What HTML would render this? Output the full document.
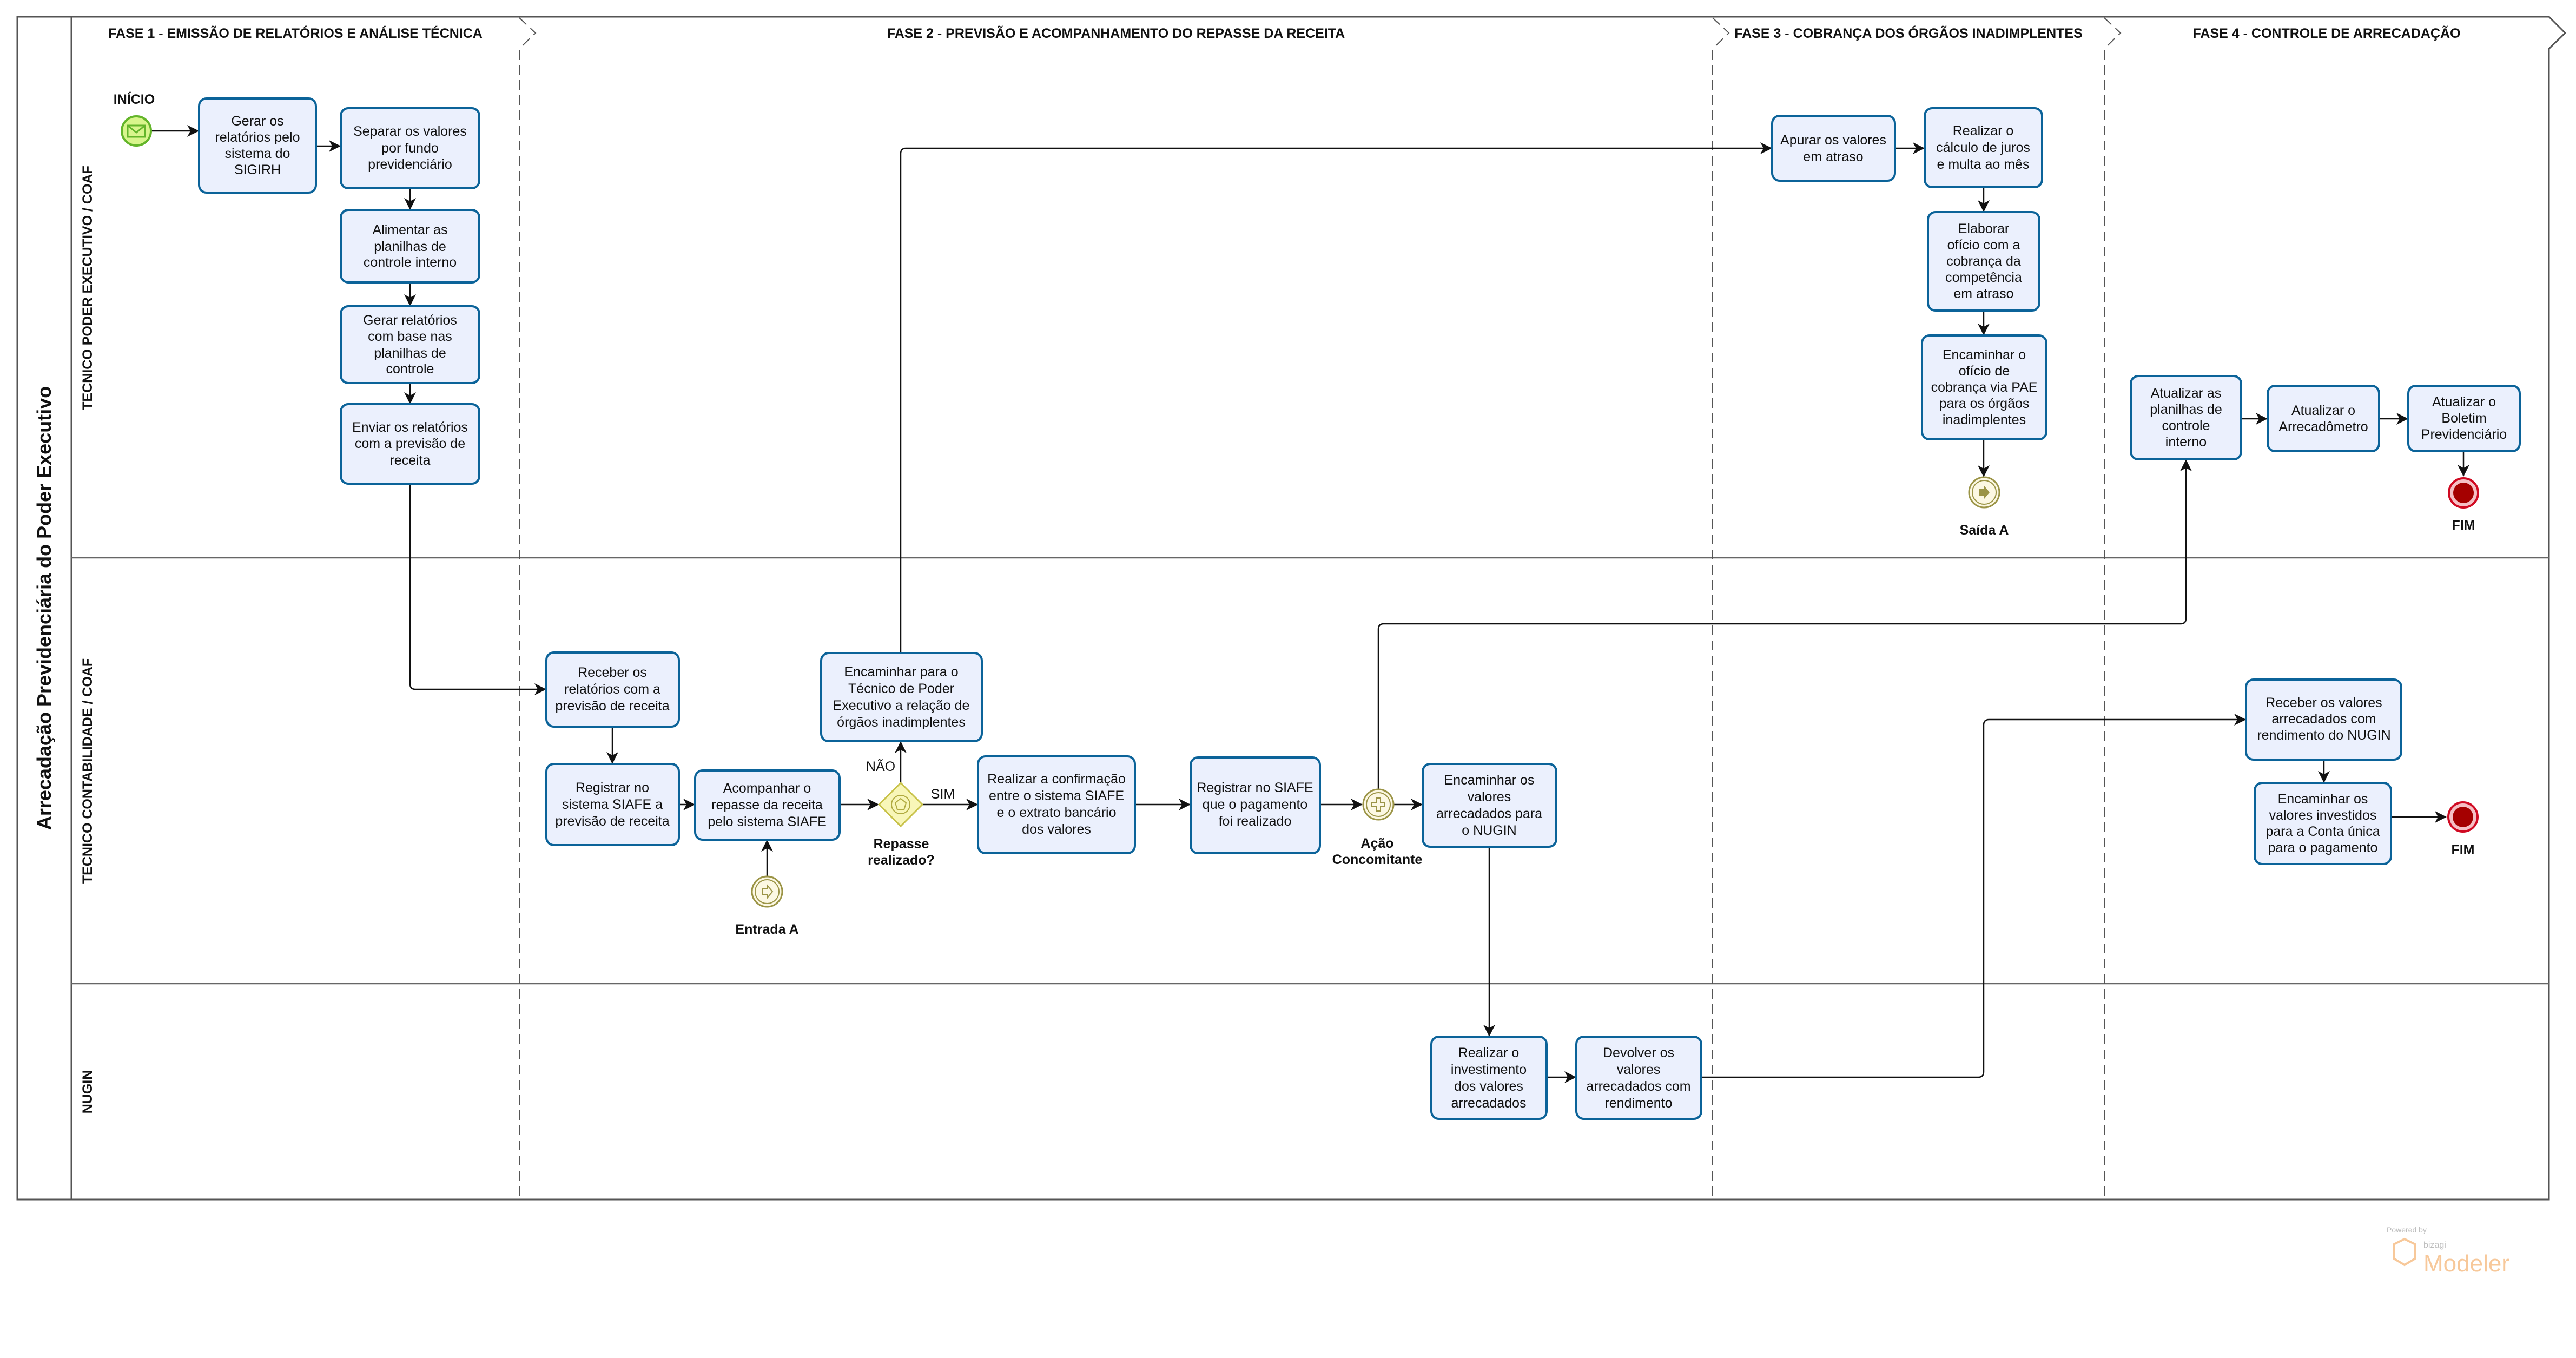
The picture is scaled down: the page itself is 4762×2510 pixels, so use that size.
<!DOCTYPE html>
<html><head><meta charset="utf-8"><style>
html,body{margin:0;padding:0;background:#fff;}
svg{display:block;}
.t{font-family:"Liberation Sans",sans-serif;font-size:25px;fill:#111;text-anchor:middle;}
.b{font-family:"Liberation Sans",sans-serif;font-weight:bold;fill:#111;text-anchor:middle;}
.task{fill:#ebf0fd;stroke:#0b6399;stroke-width:4;}
.c{fill:none;stroke:#111;stroke-width:2.5;}
.d{stroke:#555;stroke-width:2;stroke-dasharray:18 10;fill:none;}
</style></head><body>
<svg width="4762" height="2510" viewBox="0 0 4762 2510" xmlns="http://www.w3.org/2000/svg">
<defs>
<marker id="A" markerWidth="22" markerHeight="22" refX="20" refY="11" orient="auto" markerUnits="userSpaceOnUse"><path d="M0,0 L22,11 L0,22 L6,11 z" fill="#111"/></marker></defs>
<rect width="4762" height="2510" fill="#fff"/>
<!-- pool -->
<path d="M32,31 H4712 L4742,61 L4712,90 V2217 H32 Z" fill="none" stroke="#555" stroke-width="3"/>
<line x1="132" y1="31" x2="132" y2="2217" stroke="#555" stroke-width="3"/>
<line x1="132" y1="1031" x2="4712" y2="1031" stroke="#666" stroke-width="2.5"/>
<line x1="132" y1="1818" x2="4712" y2="1818" stroke="#666" stroke-width="2.5"/>
<!-- phases -->
<path class="d" d="M960,33 L990,61 L962,88 M960,92 V2217"/>
<path class="d" d="M3166,33 L3196,61 L3168,88 M3166,92 V2217"/>
<path class="d" d="M3890,33 L3920,61 L3892,88 M3890,92 V2217"/>
<text class="b" x="546" y="70" font-size="25">FASE 1 - EMISSÃO DE RELATÓRIOS E ANÁLISE TÉCNICA</text>
<text class="b" x="2063" y="70" font-size="25">FASE 2 - PREVISÃO E ACOMPANHAMENTO DO REPASSE DA RECEITA</text>
<text class="b" x="3528" y="70" font-size="25">FASE 3 - COBRANÇA DOS ÓRGÃOS INADIMPLENTES</text>
<text class="b" x="4301" y="70" font-size="25">FASE 4 - CONTROLE DE ARRECADAÇÃO</text>
<text class="b" font-size="36" transform="translate(94,1124) rotate(-90)">Arrecadação Previdenciária do Poder Executivo</text>
<text class="b" font-size="25" transform="translate(170,532) rotate(-90)">TECNICO PODER EXECUTIVO / COAF</text>
<text class="b" font-size="25" transform="translate(170,1425) rotate(-90)">TECNICO CONTABILIDADE / COAF</text>
<text class="b" font-size="25" transform="translate(170,2018) rotate(-90)">NUGIN</text>

<!-- connectors -->
<g class="c">
<path d="M279,242 H366" marker-end="url(#A)"/>
<path d="M584,270 H628" marker-end="url(#A)"/>
<path d="M758,348 V386" marker-end="url(#A)"/>
<path d="M758,522 V564" marker-end="url(#A)"/>
<path d="M758,708 V745" marker-end="url(#A)"/>
<path d="M758,894 V1264 Q758,1274 768,1274 H1008" marker-end="url(#A)"/>
<path d="M1132,1343 V1410" marker-end="url(#A)"/>
<path d="M1255,1487 H1283" marker-end="url(#A)"/>
<path d="M1552,1487 H1623" marker-end="url(#A)"/>
<path d="M1705,1487 H1806" marker-end="url(#A)"/>
<path d="M1665,1447 V1372" marker-end="url(#A)"/>
<path d="M1665,1207 V284 Q1665,274 1675,274 H3274" marker-end="url(#A)"/>
<path d="M2098,1487 H2199" marker-end="url(#A)"/>
<path d="M2440,1487 H2517" marker-end="url(#A)"/>
<path d="M2577,1487 H2628" marker-end="url(#A)"/>
<path d="M2548,1458 V1163 Q2548,1153 2558,1153 H4031 Q4041,1153 4041,1143 V851" marker-end="url(#A)"/>
<path d="M1418,1620 V1554" marker-end="url(#A)"/>
<path d="M2753,1565 V1914" marker-end="url(#A)"/>
<path d="M2859,1991 H2912" marker-end="url(#A)"/>
<path d="M3145,1991 H3657 Q3667,1991 3667,1981 V1340 Q3667,1330 3677,1330 H4150" marker-end="url(#A)"/>
<path d="M3503,274 H3556" marker-end="url(#A)"/>
<path d="M3667,346 V390" marker-end="url(#A)"/>
<path d="M3667,574 V618" marker-end="url(#A)"/>
<path d="M3667,812 V880" marker-end="url(#A)"/>
<path d="M4143,774 H4190" marker-end="url(#A)"/>
<path d="M4398,774 H4450" marker-end="url(#A)"/>
<path d="M4554,834 V879" marker-end="url(#A)"/>
<path d="M4296,1404 V1445" marker-end="url(#A)"/>
<path d="M4420,1510 H4521" marker-end="url(#A)"/>
</g>

<!-- tasks -->
<g>
<rect class="task" x="368" y="182" width="216" height="174" rx="14"/>
<text class="t"><tspan x="476" y="232">Gerar os</tspan><tspan x="476" y="262">relatórios pelo</tspan><tspan x="476" y="292">sistema do</tspan><tspan x="476" y="322">SIGIRH</tspan></text>
<rect class="task" x="630" y="200" width="256" height="148" rx="14"/>
<text class="t"><tspan x="758" y="251">Separar os valores</tspan><tspan x="758" y="282">por fundo</tspan><tspan x="758" y="312">previdenciário</tspan></text>
<rect class="task" x="630" y="388" width="256" height="134" rx="14"/>
<text class="t"><tspan x="758" y="433">Alimentar as</tspan><tspan x="758" y="464">planilhas de</tspan><tspan x="758" y="493">controle interno</tspan></text>
<rect class="task" x="630" y="566" width="256" height="142" rx="14"/>
<text class="t"><tspan x="758" y="600">Gerar relatórios</tspan><tspan x="758" y="630">com base nas</tspan><tspan x="758" y="661">planilhas de</tspan><tspan x="758" y="690">controle</tspan></text>
<rect class="task" x="630" y="747" width="256" height="147" rx="14"/>
<text class="t"><tspan x="758" y="798">Enviar os relatórios</tspan><tspan x="758" y="828">com a previsão de</tspan><tspan x="758" y="859">receita</tspan></text>

<rect class="task" x="1010" y="1206" width="245" height="137" rx="14"/>
<text class="t"><tspan x="1132" y="1251">Receber os</tspan><tspan x="1132" y="1282">relatórios com a</tspan><tspan x="1132" y="1313">previsão de receita</tspan></text>
<rect class="task" x="1010" y="1412" width="245" height="150" rx="14"/>
<text class="t"><tspan x="1132" y="1464">Registrar no</tspan><tspan x="1132" y="1495">sistema SIAFE a</tspan><tspan x="1132" y="1526">previsão de receita</tspan></text>
<rect class="task" x="1285" y="1424" width="267" height="128" rx="14"/>
<text class="t"><tspan x="1418" y="1465">Acompanhar o</tspan><tspan x="1418" y="1496">repasse da receita</tspan><tspan x="1418" y="1527">pelo sistema SIAFE</tspan></text>
<rect class="task" x="1518" y="1207" width="297" height="163" rx="14"/>
<text class="t"><tspan x="1666" y="1250">Encaminhar para o</tspan><tspan x="1666" y="1281">Técnico de Poder</tspan><tspan x="1666" y="1312">Executivo a relação de</tspan><tspan x="1666" y="1343">órgãos inadimplentes</tspan></text>
<rect class="task" x="1808" y="1398" width="290" height="179" rx="14"/>
<text class="t"><tspan x="1953" y="1448">Realizar a confirmação</tspan><tspan x="1953" y="1479">entre o sistema SIAFE</tspan><tspan x="1953" y="1510">e o extrato bancário</tspan><tspan x="1953" y="1541">dos valores</tspan></text>
<rect class="task" x="2201" y="1400" width="239" height="177" rx="14"/>
<text class="t"><tspan x="2320" y="1464">Registrar no SIAFE</tspan><tspan x="2320" y="1495">que o pagamento</tspan><tspan x="2320" y="1526">foi realizado</tspan></text>
<rect class="task" x="2630" y="1412" width="247" height="153" rx="14"/>
<text class="t"><tspan x="2753" y="1450">Encaminhar os</tspan><tspan x="2753" y="1481">valores</tspan><tspan x="2753" y="1512">arrecadados para</tspan><tspan x="2753" y="1543">o NUGIN</tspan></text>
<rect class="task" x="2646" y="1916" width="213" height="152" rx="14"/>
<text class="t"><tspan x="2752" y="1954">Realizar o</tspan><tspan x="2752" y="1985">investimento</tspan><tspan x="2752" y="2016">dos valores</tspan><tspan x="2752" y="2047">arrecadados</tspan></text>
<rect class="task" x="2914" y="1916" width="231" height="152" rx="14"/>
<text class="t"><tspan x="3029" y="1954">Devolver os</tspan><tspan x="3029" y="1985">valores</tspan><tspan x="3029" y="2016">arrecadados com</tspan><tspan x="3029" y="2047">rendimento</tspan></text>

<rect class="task" x="3276" y="214" width="227" height="120" rx="14"/>
<text class="t"><tspan x="3389" y="267">Apurar os valores</tspan><tspan x="3389" y="298">em atraso</tspan></text>
<rect class="task" x="3558" y="200" width="217" height="146" rx="14"/>
<text class="t"><tspan x="3666" y="250">Realizar o</tspan><tspan x="3666" y="281">cálculo de juros</tspan><tspan x="3666" y="312">e multa ao mês</tspan></text>
<rect class="task" x="3564" y="392" width="206" height="182" rx="14"/>
<text class="t"><tspan x="3667" y="431">Elaborar</tspan><tspan x="3667" y="461">ofício com a</tspan><tspan x="3667" y="491">cobrança da</tspan><tspan x="3667" y="521">competência</tspan><tspan x="3667" y="551">em atraso</tspan></text>
<rect class="task" x="3553" y="620" width="230" height="192" rx="14"/>
<text class="t"><tspan x="3668" y="664">Encaminhar o</tspan><tspan x="3668" y="694">ofício de</tspan><tspan x="3668" y="724">cobrança via PAE</tspan><tspan x="3668" y="754">para os órgãos</tspan><tspan x="3668" y="784">inadimplentes</tspan></text>
<rect class="task" x="3939" y="695" width="204" height="154" rx="14"/>
<text class="t"><tspan x="4041" y="735">Atualizar as</tspan><tspan x="4041" y="765">planilhas de</tspan><tspan x="4041" y="795">controle</tspan><tspan x="4041" y="825">interno</tspan></text>
<rect class="task" x="4192" y="713" width="206" height="121" rx="14"/>
<text class="t"><tspan x="4295" y="767">Atualizar o</tspan><tspan x="4295" y="797">Arrecadômetro</tspan></text>
<rect class="task" x="4452" y="713" width="206" height="121" rx="14"/>
<text class="t"><tspan x="4555" y="751">Atualizar o</tspan><tspan x="4555" y="781">Boletim</tspan><tspan x="4555" y="811">Previdenciário</tspan></text>
<rect class="task" x="4152" y="1256" width="287" height="148" rx="14"/>
<text class="t"><tspan x="4296" y="1307">Receber os valores</tspan><tspan x="4296" y="1337">arrecadados com</tspan><tspan x="4296" y="1367">rendimento do NUGIN</tspan></text>
<rect class="task" x="4168" y="1447" width="252" height="150" rx="14"/>
<text class="t"><tspan x="4294" y="1485">Encaminhar os</tspan><tspan x="4294" y="1515">valores investidos</tspan><tspan x="4294" y="1545">para a Conta única</tspan><tspan x="4294" y="1575">para o pagamento</tspan></text>
</g>

<!-- events -->
<circle cx="252" cy="242" r="27" fill="#d8f58c" stroke="#63b52a" stroke-width="4"/>
<rect x="236" y="232" width="32" height="21" fill="none" stroke="#63b52a" stroke-width="3"/>
<path d="M236,232 L252,245 L268,232" fill="none" stroke="#63b52a" stroke-width="3"/>
<text class="b" x="248" y="192" font-size="25">INÍCIO</text>

<polygon points="1665,1447 1705,1487 1665,1527 1625,1487" fill="#f8f6b8" stroke="#c8c24a" stroke-width="3"/>
<circle cx="1665" cy="1487" r="17" fill="none" stroke="#b0aa40" stroke-width="2"/>
<polygon points="1665,1476 1675,1484 1671,1497 1659,1497 1655,1484" fill="none" stroke="#b0aa40" stroke-width="2"/>
<text class="t" x="1628" y="1425" font-size="28">NÃO</text>
<text class="t" x="1743" y="1476" font-size="28">SIM</text>
<text class="b" font-size="25"><tspan x="1666" y="1568">Repasse</tspan><tspan x="1666" y="1598">realizado?</tspan></text>

<circle cx="2548" cy="1487" r="28" fill="#fcf8e3" stroke="#9b9446" stroke-width="3"/>
<circle cx="2548" cy="1487" r="22" fill="none" stroke="#9b9446" stroke-width="2"/>
<path d="M2544,1475 h8 v8 h8 v8 h-8 v8 h-8 v-8 h-8 v-8 h8 z" fill="none" stroke="#9b9446" stroke-width="2"/>
<text class="b" font-size="25"><tspan x="2546" y="1567">Ação</tspan><tspan x="2546" y="1597">Concomitante</tspan></text>

<circle cx="1418" cy="1648" r="28" fill="#fcf8e3" stroke="#9b9446" stroke-width="3"/>
<circle cx="1418" cy="1648" r="22" fill="none" stroke="#9b9446" stroke-width="2"/>
<path d="M1409,1642 h9 v-6 l10,12 l-10,12 v-6 h-9 z" fill="none" stroke="#9b9446" stroke-width="2"/>
<text class="b" x="1418" y="1726" font-size="25">Entrada A</text>

<circle cx="3668" cy="910" r="28" fill="#fcf8e3" stroke="#9b9446" stroke-width="3"/>
<circle cx="3668" cy="910" r="22" fill="none" stroke="#9b9446" stroke-width="2"/>
<path d="M3659,904 h9 v-6 l10,12 l-10,12 v-6 h-9 z" fill="#9b9446"/>
<text class="b" x="3668" y="988" font-size="25">Saída A</text>

<circle cx="4554" cy="911" r="27" fill="#f5c0c5" stroke="#d00a22" stroke-width="4"/>
<circle cx="4554" cy="911" r="19" fill="#a50000"/>
<text class="b" x="4554" y="979" font-size="25">FIM</text>
<circle cx="4553" cy="1510" r="27" fill="#f5c0c5" stroke="#d00a22" stroke-width="4"/>
<circle cx="4553" cy="1510" r="19" fill="#a50000"/>
<text class="b" x="4553" y="1579" font-size="25">FIM</text>

<!-- watermark -->
<text x="4412" y="2278" font-family="Liberation Sans,sans-serif" font-size="14" fill="#bbb">Powered by</text>
<text x="4480" y="2306" font-family="Liberation Sans,sans-serif" font-size="16" fill="#bbb">bizagi</text>
<text x="4480" y="2350" font-family="Liberation Sans,sans-serif" font-size="44" fill="#f7c89a">Modeler</text>
<path d="M4425,2300 l20,-10 l20,10 v26 l-20,12 l-20,-12 z" fill="none" stroke="#f7c89a" stroke-width="4"/>
</svg>
</body></html>
